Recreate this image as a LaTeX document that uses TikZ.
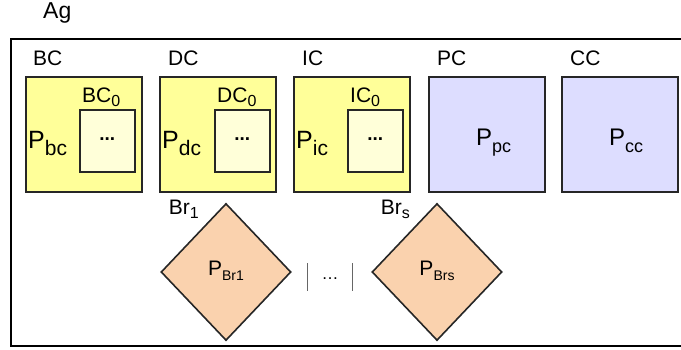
\documentclass[tikz,border=0pt]{standalone}
\usepackage{fontspec}
\setmainfont{Liberation Sans}
\usetikzlibrary{positioning, shapes.geometric}

\definecolor{boxyellow}{RGB}{255,255,153}
\definecolor{boxlight}{RGB}{255,255,217}
\definecolor{boxlav}{RGB}{221,221,255}
\definecolor{boxpeach}{RGB}{250,210,174}

% P with a lowered subscript: main letter, subscript, subscript size, drop
\newcommand{\psub}[4]{#1\raisebox{-#4}{\fontsize{#3}{#3}\selectfont #2}}
\newcommand{\lsub}[2]{#1\raisebox{-4pt}{\fontsize{16}{16}\selectfont #2}}

\begin{document}
\begin{tikzpicture}[x=1pt, y=-1pt,
    outline/.style={draw=black!85, line width=1.6pt},
    contbox/.style={outline, minimum width=116pt, minimum height=115pt, inner sep=0pt, anchor=north west},
    innerbox/.style={outline, fill=boxlight, minimum width=55pt, minimum height=62pt, inner sep=0pt, anchor=north west, font=\fontsize{19}{19}\selectfont\bfseries},
    lbl/.style={inner sep=0pt, anchor=base west, font=\fontsize{21}{21}\selectfont},
    plbl/.style={inner sep=0pt, anchor=base west, font=\fontsize{25}{25}\selectfont},
    branch/.style={outline, diamond, fill=boxpeach, minimum width=130pt, minimum height=137pt, inner sep=0pt, font=\fontsize{21}{21}\selectfont}]
  \useasboundingbox (0,0) rectangle (681,349);

  \node[inner sep=0pt, anchor=base west, font=\fontsize{23}{23}\selectfont] (ag) at (43,18) {Ag};
  \draw[line width=1.8pt] (11,39) rectangle (690,346);

  % containers
  \node[contbox, fill=boxyellow] (bc) at (25,76) {};
  \node[contbox, fill=boxyellow] (dc) at (159,76) {};
  \node[contbox, fill=boxyellow] (ic) at (293,76) {};
  \node[contbox, fill=boxlav] (pc) at (428,76) {};
  \node[contbox, fill=boxlav] (cc) at (561,76) {};

  \node[lbl] (bclbl) at ([xshift=8pt, yshift=11pt]bc.north west) {BC};
  \node[lbl] (dclbl) at ([xshift=9pt, yshift=11pt]dc.north west) {DC};
  \node[lbl] (iclbl) at ([xshift=9pt, yshift=11pt]ic.north west) {IC};
  \node[lbl] (pclbl) at ([xshift=9pt, yshift=11pt]pc.north west) {PC};
  \node[lbl] (cclbl) at ([xshift=9pt, yshift=11pt]cc.north west) {CC};

  % inner containers
  \node[innerbox] (bc0) at (79,109) {\raisebox{4pt}{...}};
  \node[innerbox] (dc0) at (214,109) {\raisebox{4pt}{...}};
  \node[innerbox] (ic0) at (347,109) {\raisebox{4pt}{...}};

  \node[lbl] (bc0lbl) at ([xshift=3pt, yshift=7pt]bc0.north west) {\lsub{BC}{0}};
  \node[lbl] (dc0lbl) at ([xshift=3pt, yshift=7pt]dc0.north west) {\lsub{DC}{0}};
  \node[lbl] (ic0lbl) at ([xshift=3pt, yshift=7pt]ic0.north west) {\lsub{IC}{0}};

  \node[plbl] (pbc) at (28,148) {\psub{P}{bc}{21}{7pt}};
  \node[plbl] (pdc) at (162,148) {\psub{P}{dc}{21}{7pt}};
  \node[plbl] (pic) at (296,148) {\psub{P}{ic}{21}{7pt}};
  \node[plbl, font=\fontsize{24}{24}\selectfont] (ppc) at (476,145) {\psub{P}{pc}{18}{7pt}};
  \node[plbl, font=\fontsize{24}{24}\selectfont] (pcc) at (609,145) {\psub{P}{cc}{18}{7pt}};

  % branches
  \node[branch] (br1) at (226,272) {\raisebox{8pt}{\psub{P}{Br1}{14}{5pt}}};
  \node[branch] (brs) at (437,272) {\raisebox{8pt}{\psub{P}{Brs}{14}{5pt}}};

  \node[lbl, anchor=base east] (br1lbl) at ([xshift=-27pt, yshift=-12pt]br1.north) {\lsub{Br}{1}};
  \node[lbl, anchor=base east] (brslbl) at ([xshift=-27pt, yshift=-12pt]brs.north) {\lsub{Br}{s}};

  \node[minimum width=45pt, minimum height=27pt, inner sep=0pt, font=\fontsize{17}{17}\selectfont] (gap) at (330,277) {\raisebox{-5pt}{\ldots}};
  \draw[black!60, line width=1.2pt] (gap.north west) -- (gap.south west);
  \draw[black!60, line width=1.2pt] (gap.north east) -- (gap.south east);
\end{tikzpicture}
\end{document}
